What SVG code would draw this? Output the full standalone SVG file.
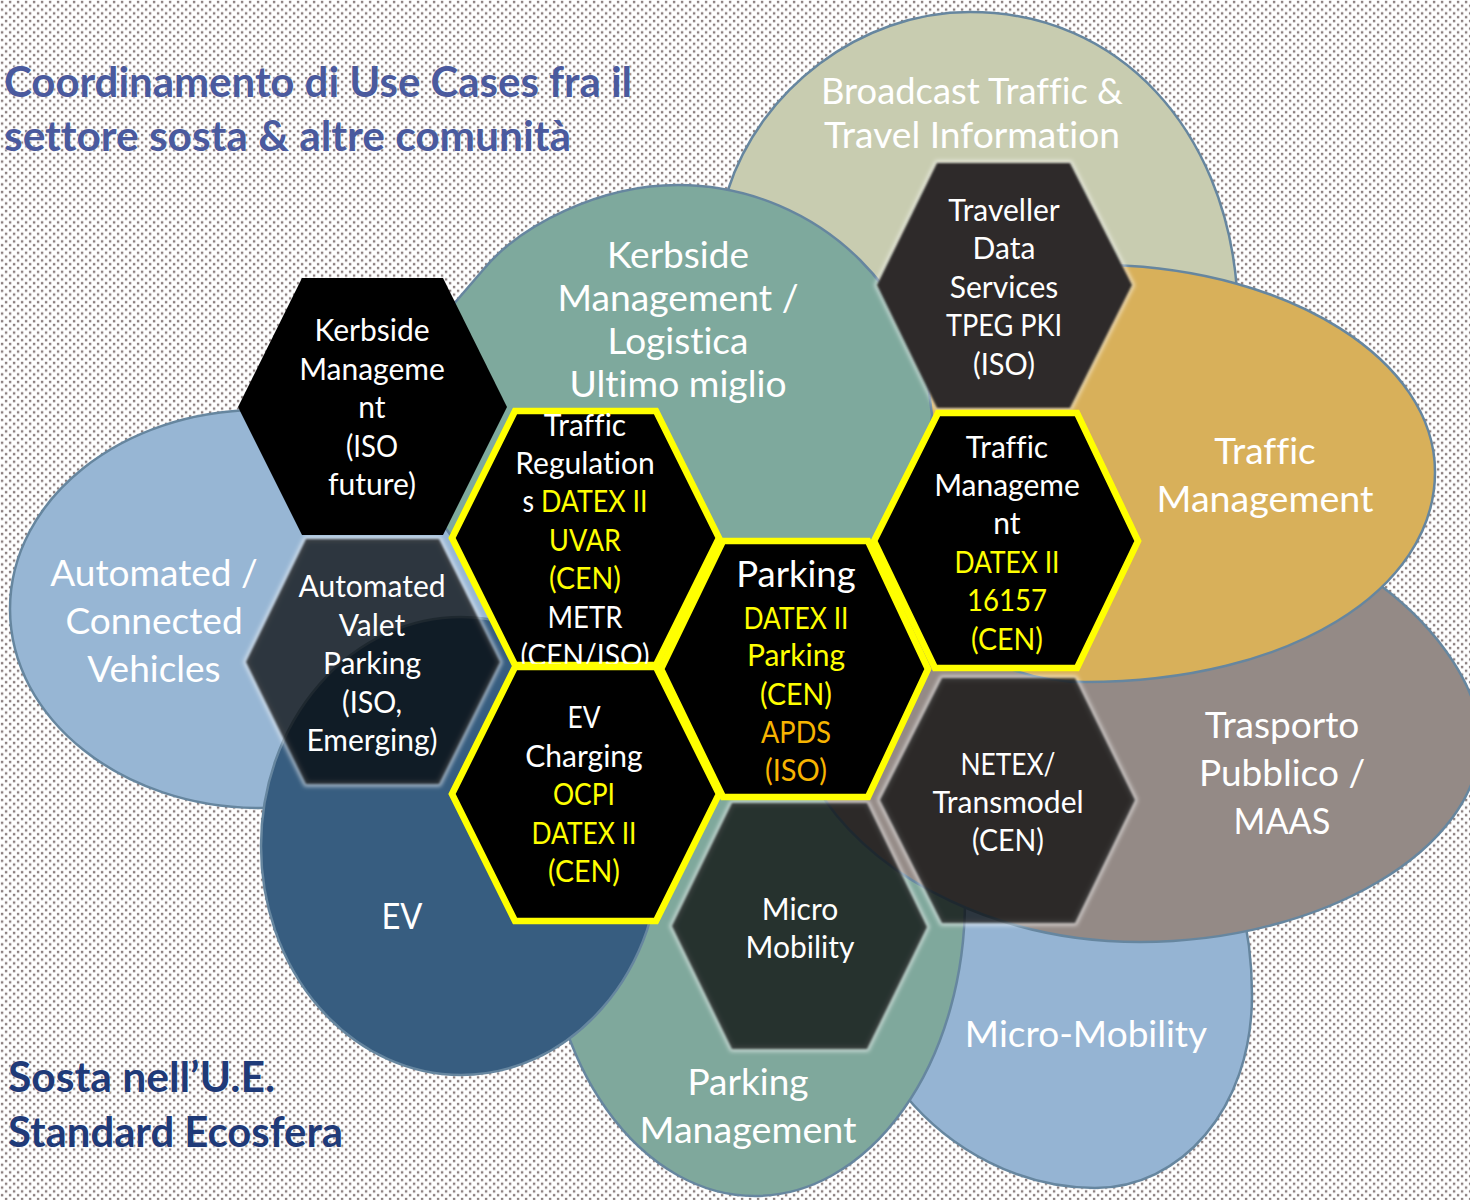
<svg xmlns="http://www.w3.org/2000/svg" width="1470" height="1200" viewBox="0 0 1470 1200">
<defs>
<pattern id="dots" width="8" height="7.6" patternUnits="userSpaceOnUse"><rect width="8" height="7.6" fill="#fff"/><rect x="0.9" y="0.8" width="2.4" height="2.4" fill="#8c8080"/><rect x="4.9" y="4.6" width="2.4" height="2.4" fill="#8c8080"/></pattern>
<filter id="halo" x="-10%" y="-10%" width="120%" height="120%"><feGaussianBlur stdDeviation="2.2"/></filter>
<filter id="soft" x="-5%" y="-5%" width="110%" height="110%"><feGaussianBlur stdDeviation="1"/></filter>
</defs>
<style>
text{font-family:"Lato","Carlito","Liberation Sans",sans-serif;text-anchor:middle;fill:#fff;font-variant-ligatures:none;font-feature-settings:"liga" 0;transform:translateY(1px)}
.b{stroke:#66869f;stroke-width:2.5}
.bt{font-size:37px}
.h{font-size:30px}
.y{fill:#ffff00}
.o{fill:#f7b400}
.title{font-size:42px;font-weight:700;text-anchor:start;fill:#4a5a9e;stroke:#fff;stroke-opacity:.35;stroke-width:2;paint-order:stroke}
.sub{font-size:42px;font-weight:700;text-anchor:start;fill:#1f3a78;stroke:#fff;stroke-opacity:.35;stroke-width:2;paint-order:stroke}
.gl{fill:none;stroke:#fff;stroke-opacity:.6;stroke-width:5;filter:url(#halo)}
.dk{fill:#000;fill-opacity:.7;filter:url(#soft)}
.sd{fill:#2e2c2a;filter:url(#soft)}
.yh{fill:#000;stroke:#ffff00;stroke-width:6.6;stroke-linejoin:miter}
</style>
<rect width="1470" height="1200" fill="url(#dots)"/>
<g id="connectors"/>
<g id="blob-broadcast"><path class="b" fill="#c8ccb0" d="M728,190C760,90 860,12 970,12C1120,12 1225,130 1237,290L1100,400L800,400Z"/></g>
<g id="blob-micromobility"><path class="b" fill="#95b4d3" d="M1252,995C1252,1110 1180,1188 1095,1188C1020,1188 950,1150 905,1095L905,800L1240,900C1248,930 1252,960 1252,995Z"/></g>
<g id="blob-parking"><ellipse class="b" fill="#7fa89c" cx="755" cy="900" rx="210" ry="296"/></g>
<g id="blob-trasporto"><path class="b" fill="#948a86" d="M1480,740C1480,850 1320,942 1140,942C1000,942 880,880 825,800C800,700 850,600 1000,570L1300,540C1340,555 1360,570 1380,585C1440,630 1480,690 1480,740Z"/></g>
<g id="blob-traffic"><path class="b" fill="#d8b05a" d="M1435,472C1435,590 1290,682 1085,682C960,682 870,580 880,470C890,350 1000,265 1110,265C1290,270 1435,360 1435,472Z"/></g>
<g id="blob-kerbside"><path class="b" fill="#7ea99d" d="M678,185C750,185 815,215 860,260C895,295 920,340 928,383L932,415L925,470L880,540L440,540L440,320L483,270C520,225 600,185 678,185Z"/></g>
<g id="blob-automated"><path class="b" fill="#97b6d4" d="M10,609C10,499 122,410 260,410C340,410 410,480 447,530C480,575 500,620 505,680C500,760 400,808 260,808C122,808 10,719 10,609Z"/></g>
<g id="blob-ev"><ellipse class="b" fill="#375d80" cx="461" cy="846" rx="200" ry="229"/></g>
<g id="labels-blobs">
<text class="bt" x="972" y="103" textLength="302" lengthAdjust="spacingAndGlyphs">Broadcast Traffic &amp;</text><text class="bt" x="972" y="147" textLength="296" lengthAdjust="spacingAndGlyphs">Travel Information</text>
<text class="bt" x="678" y="267">Kerbside</text><text class="bt" x="678" y="310" textLength="241" lengthAdjust="spacingAndGlyphs">Management /</text><text class="bt" x="678" y="353">Logistica</text><text class="bt" x="678" y="396" textLength="217" lengthAdjust="spacingAndGlyphs">Ultimo miglio</text>
<text class="bt" x="1265" y="463">Traffic</text><text class="bt" x="1265" y="511" textLength="217" lengthAdjust="spacingAndGlyphs">Management</text>
<text class="bt" x="1282" y="737">Trasporto</text><text class="bt" x="1282" y="785">Pubblico /</text><text class="bt" x="1282" y="833" textLength="97" lengthAdjust="spacingAndGlyphs">MAAS</text>
<text class="bt" x="154" y="585">Automated /</text><text class="bt" x="154" y="633">Connected</text><text class="bt" x="154" y="681">Vehicles</text>
<text class="bt" x="402" y="928" textLength="41" lengthAdjust="spacingAndGlyphs">EV</text>
<text class="bt" x="1086" y="1046">Micro-Mobility</text>
<text class="bt" x="748" y="1094">Parking</text><text class="bt" x="748" y="1142" textLength="217" lengthAdjust="spacingAndGlyphs">Management</text>
</g>
<g id="hex-traveller"><polygon class="gl" points="877,285 937,163 1070,163 1132,285 1070,408 937,408"/><polygon class="sd" points="877,285 937,163 1070,163 1132,285 1070,408 937,408"/>
<text class="h" x="1004" y="220">Traveller</text><text class="h" x="1004" y="258">Data</text><text class="h" x="1004" y="297">Services</text><text class="h" x="1004" y="335" textLength="116" lengthAdjust="spacingAndGlyphs">TPEG PKI</text><text class="h" x="1004" y="374" textLength="62" lengthAdjust="spacingAndGlyphs">(ISO)</text></g>
<g id="hex-netex"><polygon class="gl" points="880,800 942,678 1075,678 1135,800 1075,923 942,923"/><polygon class="dk" points="880,800 942,678 1075,678 1135,800 1075,923 942,923"/>
<text class="h" x="1008" y="774" textLength="95" lengthAdjust="spacingAndGlyphs">NETEX/</text><text class="h" x="1008" y="812">Transmodel</text><text class="h" x="1008" y="850" textLength="72" lengthAdjust="spacingAndGlyphs">(CEN)</text></g>
<g id="hex-micro"><polygon class="gl" points="672,926 732,803 867,803 927,927 867,1049 732,1049"/><polygon class="dk" points="672,926 732,803 867,803 927,927 867,1049 732,1049"/>
<text class="h" x="800" y="919">Micro</text><text class="h" x="800" y="957">Mobility</text></g>
<g id="hex-automated"><polygon class="gl" points="246,662 306,539 439,539 500,662 439,784 306,784"/><polygon class="dk" points="246,662 306,539 439,539 500,662 439,784 306,784"/>
<text class="h" x="372" y="596">Automated</text><text class="h" x="372" y="635">Valet</text><text class="h" x="372" y="673">Parking</text><text class="h" x="372" y="712" textLength="60" lengthAdjust="spacingAndGlyphs">(ISO,</text><text class="h" x="372" y="750">Emerging)</text></g>
<g id="hex-kerbside"><polygon fill="#000" points="238,407 302,278 443,278 507,407 443,535 302,535"/>
<text class="h" x="372" y="340">Kerbside</text><text class="h" x="372" y="379">Manageme</text><text class="h" x="372" y="417">nt</text><text class="h" x="372" y="456" textLength="52" lengthAdjust="spacingAndGlyphs">(ISO</text><text class="h" x="372" y="494">future)</text></g>
<g id="hex-regulation"><polygon class="yh" points="452,538 515,411 656,411 719,538 656,665 515,665"/>
<text class="h" x="585" y="435">Traffic</text><text class="h" x="585" y="473">Regulation</text><text class="h" x="585" y="511" textLength="125" lengthAdjust="spacingAndGlyphs">s <tspan class="y">DATEX II</tspan></text><text class="h y" x="585" y="550" textLength="72" lengthAdjust="spacingAndGlyphs">UVAR</text><text class="h y" x="585" y="588" textLength="72" lengthAdjust="spacingAndGlyphs">(CEN)</text><text class="h" x="585" y="627" textLength="75" lengthAdjust="spacingAndGlyphs">METR</text><text class="h" x="585" y="665" textLength="129" lengthAdjust="spacingAndGlyphs">(CEN/ISO)</text></g>
<g id="hex-charging"><polygon class="yh" points="452,794 515,667 656,667 719,794 656,921 515,921"/>
<text class="h" x="584" y="727" textLength="33" lengthAdjust="spacingAndGlyphs">EV</text><text class="h" x="584" y="766">Charging</text><text class="h y" x="584" y="804" textLength="62" lengthAdjust="spacingAndGlyphs">OCPI</text><text class="h y" x="584" y="843" textLength="105" lengthAdjust="spacingAndGlyphs">DATEX II</text><text class="h y" x="584" y="881" textLength="72" lengthAdjust="spacingAndGlyphs">(CEN)</text></g>
<g id="hex-parking"><polygon class="yh" points="661,669 723,541 868,541 928,669 868,797 723,797"/>
<text x="796" y="586" style="font-size:36.5px">Parking</text><text class="h y" x="796" y="628" textLength="105" lengthAdjust="spacingAndGlyphs">DATEX II</text><text class="h y" x="796" y="665">Parking</text><text class="h y" x="796" y="704" textLength="72" lengthAdjust="spacingAndGlyphs">(CEN)</text><text class="h o" x="796" y="742" textLength="70" lengthAdjust="spacingAndGlyphs">APDS</text><text class="h o" x="796" y="780" textLength="62" lengthAdjust="spacingAndGlyphs">(ISO)</text></g>
<g id="hex-traffic"><polygon class="yh" points="874,541 938,413 1077,413 1138,541 1077,668 935,668"/>
<text class="h" x="1007" y="457">Traffic</text><text class="h" x="1007" y="495">Manageme</text><text class="h" x="1007" y="533">nt</text><text class="h y" x="1007" y="572" textLength="105" lengthAdjust="spacingAndGlyphs">DATEX II</text><text class="h y" x="1007" y="610" textLength="80" lengthAdjust="spacingAndGlyphs">16157</text><text class="h y" x="1007" y="649" textLength="72" lengthAdjust="spacingAndGlyphs">(CEN)</text></g>
<text class="title" x="4" y="96" textLength="628" lengthAdjust="spacingAndGlyphs">Coordinamento di Use Cases fra il</text>
<text class="title" x="4" y="150" textLength="567" lengthAdjust="spacingAndGlyphs">settore sosta &amp; altre comunità</text>
<text class="sub" x="8" y="1091" textLength="267" lengthAdjust="spacingAndGlyphs">Sosta nell’U.E.</text>
<text class="sub" x="8" y="1146" textLength="335" lengthAdjust="spacingAndGlyphs">Standard Ecosfera</text>
</svg>
